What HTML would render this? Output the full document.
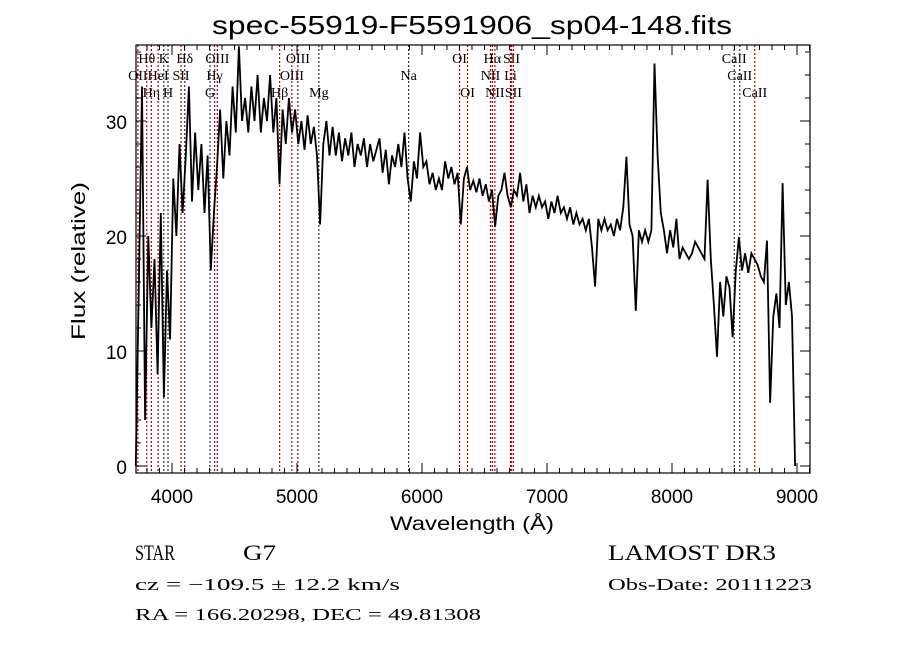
<!DOCTYPE html>
<html><head><meta charset="utf-8"><style>
html,body{margin:0;padding:0;background:#fff;}
svg{display:block;}
text{font-family:"Liberation Sans",sans-serif;fill:#000;}
.ser{font-family:"Liberation Serif",serif;}
</style></head><body>
<svg id="chart" width="900" height="649" viewBox="0 0 900 649" xmlns="http://www.w3.org/2000/svg">
<rect width="900" height="649" fill="#fff"/>
<text x="212" y="34" font-size="26" textLength="520" lengthAdjust="spacingAndGlyphs">spec-55919-F5591906_sp04-148.fits</text>
<g id="lines"></g>
<g id="series"></g>
<g id="axes"></g>
<text x="390" y="530" font-size="19" textLength="164" lengthAdjust="spacingAndGlyphs">Wavelength (Å)</text>
<text transform="translate(85,340) rotate(-90)" font-size="19" textLength="158" lengthAdjust="spacingAndGlyphs">Flux (relative)</text>
<text x="135" y="560" font-size="22" class="ser" textLength="40" lengthAdjust="spacingAndGlyphs">STAR</text>
<text x="243" y="560" font-size="22" class="ser" textLength="33" lengthAdjust="spacingAndGlyphs">G7</text>
<text x="608" y="560" font-size="22" class="ser" textLength="168" lengthAdjust="spacingAndGlyphs">LAMOST DR3</text>
<text x="135" y="590" font-size="17" class="ser" textLength="265" lengthAdjust="spacingAndGlyphs">cz = −109.5 ± 12.2 km/s</text>
<text x="608" y="590" font-size="17" class="ser" textLength="204" lengthAdjust="spacingAndGlyphs">Obs-Date: 20111223</text>
<text x="135" y="620" font-size="17" class="ser" textLength="346" lengthAdjust="spacingAndGlyphs">RA = 166.20298, DEC =  49.81308</text>
</svg>
<script>
const wavelengths = [3710,3735,3760,3785,3810,3835,3860,3885,3910,3935,3960,3985,4010,4035,4060,4085,4110,4135,4160,4185,4210,4235,4260,4285,4310,4335,4360,4385,4410,4435,4460,4485,4510,4535,4560,4585,4610,4635,4660,4685,4710,4735,4760,4785,4810,4835,4860,4885,4910,4935,4960,4985,5010,5035,5060,5085,5110,5135,5160,5185,5210,5235,5260,5285,5310,5335,5360,5385,5410,5435,5460,5485,5510,5535,5560,5585,5610,5635,5660,5685,5710,5735,5760,5785,5810,5835,5860,5885,5910,5935,5960,5985,6010,6035,6060,6085,6110,6135,6160,6185,6210,6235,6260,6285,6310,6335,6360,6385,6410,6435,6460,6485,6510,6535,6560,6585,6610,6635,6660,6685,6710,6735,6760,6785,6810,6835,6860,6885,6910,6935,6960,6985,7010,7035,7060,7085,7110,7135,7160,7185,7210,7235,7260,7285,7310,7335,7360,7385,7410,7435,7460,7485,7510,7535,7560,7585,7610,7635,7660,7685,7710,7735,7760,7785,7810,7835,7860,7885,7910,7935,7960,7985,8010,8035,8060,8085,8110,8135,8160,8185,8210,8235,8260,8285,8310,8335,8360,8385,8410,8435,8460,8485,8510,8535,8560,8585,8610,8635,8660,8685,8710,8735,8760,8785,8810,8835,8860,8885,8910,8935,8960,8985,9010];
const flux = [0,16,33,4,20,12,18,8,22,6,17,11,25,20,28,22,27,33,23,29,24,28,22,27,17,22,26,31,25,30,27,33,29,36.5,30,32,29,33,30,34,29,32,30,34,29,32,24.5,31,28,32,29,31,28,30,27.5,30.5,28,29.5,27,21,28,30,27,29.5,27,29,26.5,28.5,27,29,26,28,27,28.5,26,28,26.5,27.5,28.5,25.5,27.5,24.5,27,26,28,26,29,25,23,26.5,25,29,26,26.5,24.5,25.5,24,25,24,26.5,25,26,24.5,25.5,21,25,26,24,24.8,23.8,25,23.5,24.5,23,24,20.8,23.5,24,25.5,23.5,22.5,24,23.5,25.5,23,24.5,22,23.5,22.5,23.5,22.5,23,21.5,23,22,23.5,22,22.5,21.5,22.5,21,22,21,21.5,20.5,21.5,19,15.6,21.5,20.5,21.5,20.5,21,20,21.5,20.5,22.5,26.9,21,20,13.5,20.5,19.5,20.5,19.5,20.5,35,27,22,20.5,18.5,20.5,19,21.5,18,19,18.5,18,18.5,19.5,19,18.5,18,24.9,18,14,9.5,16,13,16.5,15.5,11.2,17,19.9,17,18.5,16.8,18.5,18,17.5,16.5,16,19.6,5.5,13,15,12,24.6,14,16,13,0];
const lineWaves = [3727,3798,3835,3889,3934,3968,4072,4102,4304,4340,4363,4861,4959,5007,5175,5893,6300,6364,6548,6563,6583,6708,6716,6731,8498,8542,8662];
const lineNames = ["OII","Hθ","Hη","HeI","K","H","SII","Hδ","G","Hγ","OIII","Hβ","OIII","OIII","Mg","Na","OI","OI","NII","Hα","NII","Li","SII","SII","CaII","CaII","CaII"];
const lineRows = [1,0,2,1,0,2,1,0,2,1,0,2,1,0,2,1,0,2,1,0,2,1,0,2,0,1,2];
const lineColors = ["r","r","r","r","k","k","r","k","k","r","r","r","r","r","k","k","r","r","r","r","r","r","r","r","k","k","r"];
const xTicks = [4000,5000,6000,7000,8000,9000];
const yTicks = [0,10,20,30];

const NS="http://www.w3.org/2000/svg";
const L=136,R=810,T=45,B=473;
const xs=w=>172+0.125*(w-4000);
const ys=v=>466-11.5*v;
function mk(tag,attrs,parent){const e=document.createElementNS(NS,tag);for(const k in attrs)e.setAttribute(k,attrs[k]);parent.appendChild(e);return e;}

const gl=document.getElementById('lines');
lineWaves.forEach((w,i)=>{
  const ln=mk('line',{x1:xs(w),x2:xs(w),y1:T,y2:B,stroke:lineColors[i]==="r"?"#c00000":"#333",'stroke-width':1.2,'stroke-dasharray':'2,2'},gl);
  
  
  const t=mk('text',{x:xs(w),y:63+lineRows[i]*17,'font-size':14,'text-anchor':'middle','class':'ser'},gl);
  t.textContent=lineNames[i];
  
  
});

const gs=document.getElementById('series');
let d="";
wavelengths.forEach((w,i)=>{d+=(i?"L":"M")+xs(w).toFixed(1)+","+ys(flux[i]).toFixed(1);});
const p=mk('path',{d:d,fill:'none',stroke:'#000','stroke-width':1.8,'stroke-linejoin':'miter'},gs);



const ga=document.getElementById('axes');
const fr=mk('rect',{x:L,y:T,width:R-L,height:B-T,fill:'none',stroke:'#000','stroke-width':1.2},ga);


for(let w=3800;w<=9100;w+=100){
  const maj=w%1000===0, len=maj?10:5;
  mk('line',{x1:xs(w),x2:xs(w),y1:B,y2:B-len,stroke:'#000'},ga);
  mk('line',{x1:xs(w),x2:xs(w),y1:T,y2:T+len,stroke:'#000'},ga);
}
for(let v=0;v<=36;v+=2){
  const maj=v%10===0, len=maj?10:5;
  mk('line',{x1:L,x2:L+len,y1:ys(v),y2:ys(v),stroke:'#000'},ga);
  mk('line',{x1:R,x2:R-len,y1:ys(v),y2:ys(v),stroke:'#000'},ga);
}
xTicks.forEach(w=>{
  const t=mk('text',{x:xs(w),y:503,'font-size':19,'text-anchor':'middle'},ga);
  t.textContent=w;
  
  
});
yTicks.forEach(v=>{
  const t=mk('text',{x:127,y:ys(v)+8,'font-size':19,'text-anchor':'end'},ga);
  t.textContent=v;
  
  
});
</script>
</body></html>
